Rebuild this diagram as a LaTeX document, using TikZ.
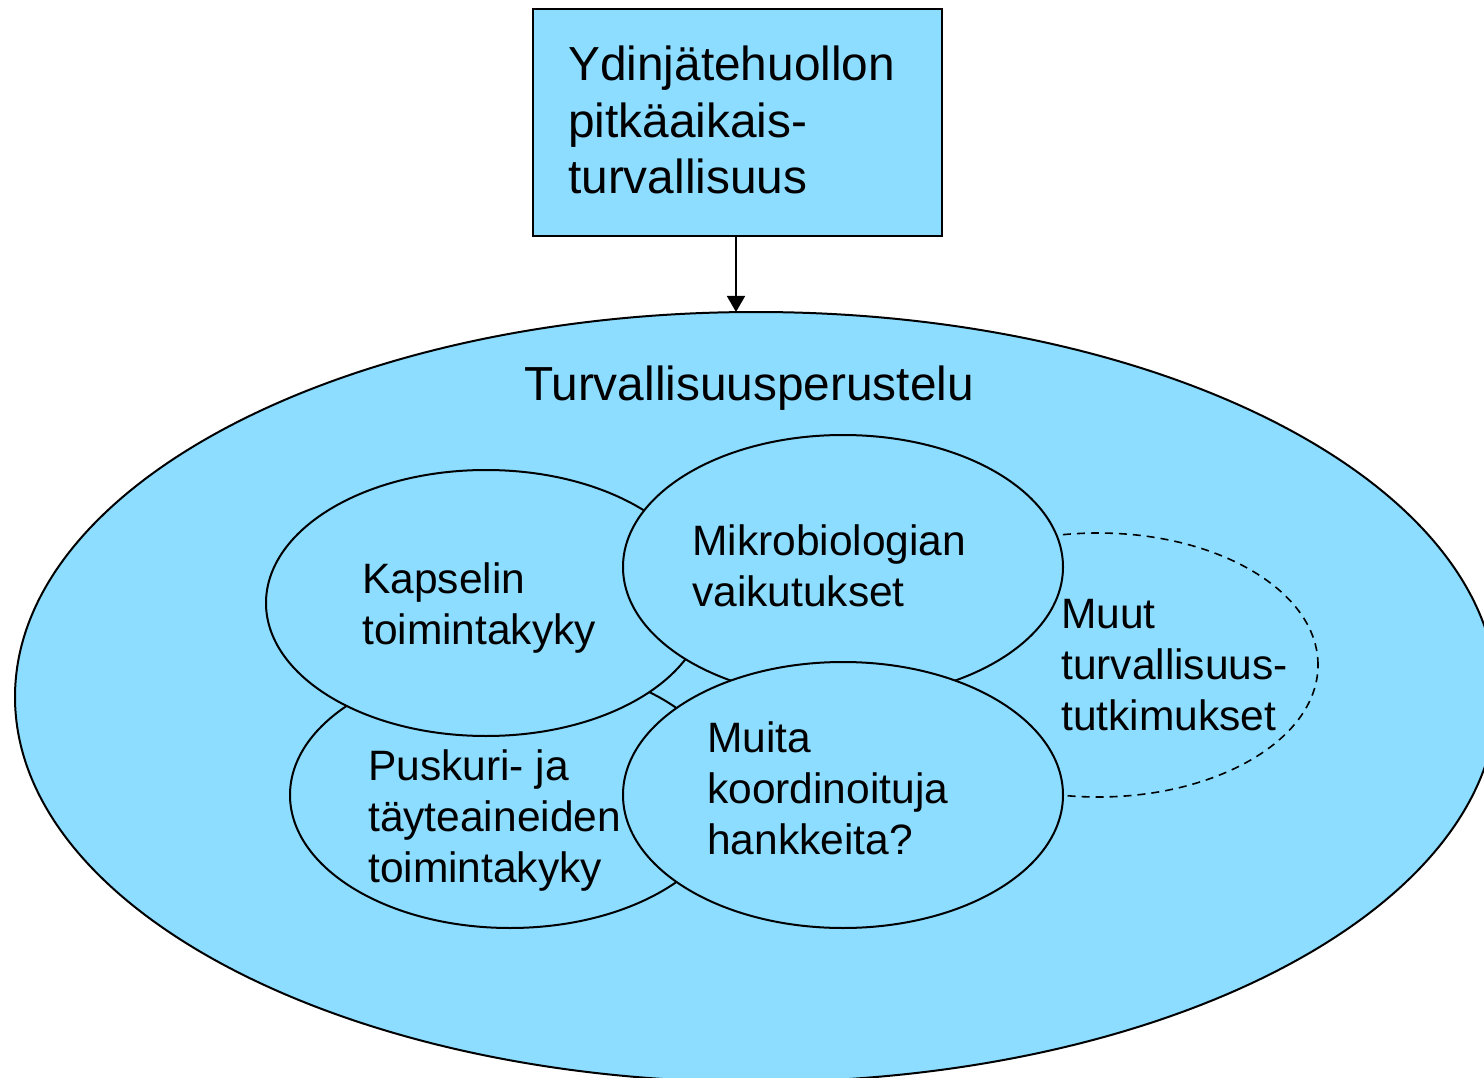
\documentclass[tikz,border=0pt]{standalone}
\usepackage{fontspec}
\setmainfont{Liberation Sans}
\usetikzlibrary{shapes.geometric,arrows.meta}
\definecolor{skyfill}{RGB}{140,221,255}
\tikzset{
  blob/.style={ellipse,draw=black,line width=2pt,fill=skyfill,inner sep=0pt},
  bigtxt/.style={font=\fontsize{47.8}{56.5}\selectfont,align=left,inner sep=0pt},
  smalltxt/.style={font=\fontsize{42.5}{51}\selectfont,align=left,inner sep=0pt},
}
\begin{document}
\begin{tikzpicture}[x=1pt,y=-1pt]
\useasboundingbox (0,0) rectangle (1484,1078);
\clip (0,0) rectangle (1484,1078);
% top box
\node[draw=black,line width=1.6pt,fill=skyfill,minimum width=409pt,minimum height=227pt,inner sep=0pt,anchor=north west] (box) at (532,8) {};
\node[bigtxt,anchor=base west] (boxtxt) at (568,194) {Ydinjätehuollon\\pitkäaikais-\\turvallisuus};
% big ellipse
\node[blob,minimum width=1482pt,minimum height=770pt] (big) at (756,697) {};
\coordinate (bigtop) at (736,312);
\draw[line width=1.6pt,-{Triangle[width=18pt,length=16pt]}] (box.south -| bigtop) -- (bigtop);
\node[bigtxt,anchor=base] (title) at (749,400) {Turvallisuusperustelu};
% dashed ellipse
\node[blob,dashed,dash pattern=on 8pt off 6pt,line width=1.6pt,minimum width=440pt,minimum height=264pt] (muut) at (1098,665) {};
% inner ellipses
\node[blob,minimum width=440pt,minimum height=266pt] (pusk) at (510,795) {};
\node[blob,minimum width=440pt,minimum height=266pt] (kaps) at (486,603) {};
\node[blob,minimum width=440pt,minimum height=264pt] (mikro) at (843,567) {};
\node[blob,minimum width=440pt,minimum height=266pt] (muita) at (843,795) {};
% texts (anchored at the baseline of the last line)
\node[smalltxt,anchor=base west] (kapst) at (362,644) {Kapselin\\toimintakyky};
\node[smalltxt,anchor=base west] (mikrot) at (692,606) {Mikrobiologian\\vaikutukset};
\node[smalltxt,anchor=base west] (puskt) at (368,882) {Puskuri- ja\\täyteaineiden\\toimintakyky};
\node[smalltxt,anchor=base west] (muitat) at (707,854) {Muita\\koordinoituja\\hankkeita?};
\node[smalltxt,anchor=base west] (muutt) at (1061,730) {Muut\\turvallisuus-\\tutkimukset};
\end{tikzpicture}
\end{document}
